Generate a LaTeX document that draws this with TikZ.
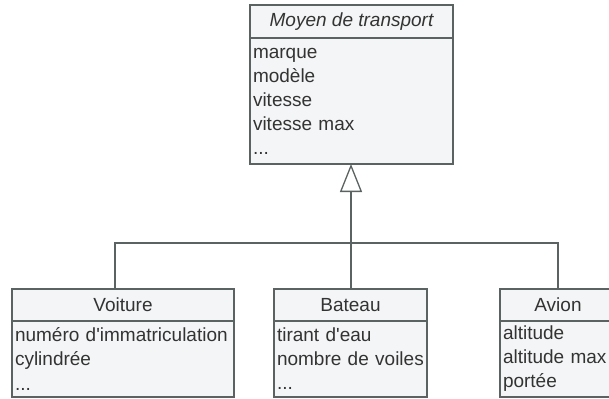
\documentclass[tikz,border=0pt]{standalone}
\usepackage{fontspec}
\setmainfont{Liberation Sans}
\usetikzlibrary{positioning,arrows.meta}
\definecolor{umlline}{HTML}{5B6262}
\definecolor{umlfill}{HTML}{F4F5F6}
\definecolor{umltext}{HTML}{333333}

\begin{document}
\begin{tikzpicture}[x=1pt,y=-1pt,
    classname/.style={draw=umlline, fill=umlfill, line width=1.3pt, outer sep=0pt, inner sep=0pt,
      minimum height=32pt, text=umltext, font=\fontsize{19}{24}\selectfont},
    attrs/.style={draw=umlline, fill=umlfill, line width=1.3pt, outer sep=0pt, inner xsep=3pt,
      inner ysep=0pt, align=left, text=umltext, font=\fontsize{19}{24}\selectfont},
    link/.style={draw=umlline, line width=1.3pt}]
  \clip (0,0) rectangle (609,398);
  \fill[white] (0,0) rectangle (609,398);

  % parent class
  \node[classname, minimum width=203pt, minimum height=33pt, font=\fontsize{19}{24}\selectfont\itshape] (moyen) at (351.5,21.5) {Moyen de transport};
  \node[attrs, below=0pt of moyen, minimum height=126pt, text width=197pt] (moyenattr) {marque\\modèle\\vitesse\\vitesse max\\...};

  % subclasses
  \node[classname, minimum width=222pt] (voiture) at (123,305) {Voiture};
  \node[attrs, below=0pt of voiture, minimum height=76pt, text width=216pt] (voitureattr) {numéro d\textquotesingle immatriculation\\cylindrée\\...};
  \node[classname, minimum width=153pt] (bateau) at (350.5,305) {Bateau};
  \node[attrs, below=0pt of bateau, minimum height=76pt, text width=147pt] (bateauattr) {tirant d\textquotesingle eau\\nombre de voiles\\...};
  \node[classname, minimum width=116pt] (avion) at (558,305) {Avion};
  \node[attrs, below=0pt of avion, minimum height=76pt, text width=110pt] (avionattr) {altitude\\altitude max\\portée};

  % generalisation
  \coordinate (fork) at (351,243);
  \draw[link, -{Triangle[open, length=28pt, width=22pt]}] (fork) -- (fork |- moyenattr.south);
  \draw[link] ([xshift=-8pt]voiture.north) |- (fork) -| (avion.north);
  \draw[link] (bateau.north -| fork) -- (fork);
\end{tikzpicture}
\end{document}
